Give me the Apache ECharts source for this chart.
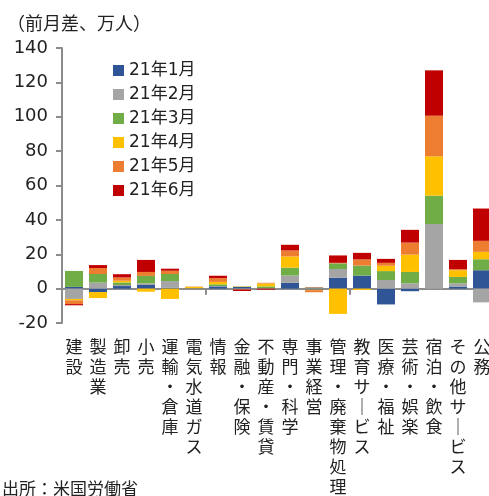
<!DOCTYPE html>
<html>
<head>
<meta charset="utf-8">
<script src="https://cdn.jsdelivr.net/npm/echarts@6/dist/echarts.min.js"></script>
<style>
html, body { margin: 0; padding: 0; background: #fff; }
#main { width: 489px; height: 496px; }
</style>
</head>
<body>
<div id="main"></div>
<script>
// 業種
var categories = ['建設', '製造業', '卸売', '小売', '運輸・倉庫', '電気水道ガス', '情報', '金融・保険', '不動産・賃貸',
    '専門・科学', '事業経営', '管理・廃棄物処理', '教育サービス', '医療・福祉', '芸術・娯楽', '宿泊・飲食', 'その他サービス', '公務'];
var seriesNames = ['21年1月', '21年2月', '21年3月', '21年4月', '21年5月', '21年6月'];
var colors = ['#2F5597', '#A5A5A5', '#70AD47', '#FFC000', '#ED7D31', '#C00000'];

// 前月差（万人）
var jan = [1.0, -2.0, 1.5, 2.1, 0.6, 0.2, 1.3, 1.0, 0, 3.4, -0.6, 6.4, 7.6, -9.2, -1.5, 0, 1.2, 10.7];
var feb = [-6.0, 3.5, 0.6, 1.0, 3.8, 0, 0.2, -0.3, 0.3, 4.2, 0.3, 5.0, 0, 5.0, 3.1, 37.6, 1.9, -8.0];
var mar = [9.3, 5.0, 1.5, 4.3, 4.1, 0, 1.0, 0.2, 1.0, 4.6, 0.3, 3.3, 5.8, 5.2, 6.6, 16.5, 3.7, 6.4];
var apr = [-0.8, -3.5, 1.0, -1.8, -6.0, 0.8, 1.4, 0.2, 1.7, 6.5, -0.3, -14.7, -0.8, 3.1, 10.1, 22.9, 3.9, 4.3];
var may = [-2.2, 3.5, 1.9, 2.3, 1.9, 0.2, 2.2, -0.3, 0.4, 3.5, -1.2, 0.3, 3.6, 1.7, 7.0, 23.6, 0.6, 6.4];
var jun = [-0.7, 1.7, 1.9, 7.0, 1.2, 0, 1.4, -0.8, -0.6, 3.3, 0.2, 4.3, 3.8, 2.3, 7.4, 26.4, 5.4, 18.8];

var values = [jan, feb, mar, apr, may, jun];

var myChart = echarts.init(document.getElementById('main'), null, { renderer: 'canvas' });

// 縦書きラベル（長音は縦棒に）
function verticalText(s) {
    return s.split('').map(function(c) {
        return c === 'ー' ? '｜' : c;
    }).join('\n');
}

var series = [];
for (var i = 0; i < seriesNames.length; i++) {
    series.push({
        name: seriesNames[i],
        type: 'bar',
        stack: 'total',
        xAxisIndex: 0,
        barCategoryGap: '25%',
        itemStyle: { color: colors[i] },
        data: values[i]
    });
}

var option = {
    animation: false,
    backgroundColor: '#fff',
    title: {
        text: '（前月差、万人）',
        left: 2,
        top: 9,
        textStyle: {
            fontFamily: 'Noto Sans CJK JP',
            fontSize: 18,
            fontWeight: 'normal',
            color: '#222'
        }
    },
    legend: {
        orient: 'vertical',
        left: 108,
        top: 57,
        itemWidth: 11,
        itemHeight: 11,
        itemGap: 7,
        icon: 'rect',
        data: seriesNames,
        textStyle: {
            fontFamily: 'DejaVu Sans, Noto Sans CJK JP',
            fontSize: 17,
            color: '#222'
        }
    },
    grid: {
        left: 62,
        right: -5,
        top: 48,
        bottom: 173,
        containLabel: false,
        outerBoundsMode: 'none'
    },
    xAxis: [{
        type: 'category',
        data: categories,
        axisLine: { onZero: true, lineStyle: { color: '#8C8C8C', width: 2 } },
        axisTick: { show: true, length: 6, lineStyle: { color: '#8C8C8C', width: 2 } },
        axisLabel: { show: false },
        splitLine: { show: false }
    }, {
        type: 'category',
        position: 'bottom',
        data: categories,
        axisLine: { show: false, onZero: false },
        axisTick: { show: false },
        axisLabel: {
            margin: 14,
            interval: 0,
            fontFamily: 'Noto Sans CJK JP',
            fontSize: 17,
            lineHeight: 20,
            color: '#222',
            formatter: function(v) {
                return verticalText(v);
            }
        }
    }],
    yAxis: {
        type: 'value',
        min: -20,
        max: 140,
        interval: 20,
        axisLine: { show: true, lineStyle: { color: '#8C8C8C', width: 2 } },
        axisTick: { show: true, length: 6, lineStyle: { color: '#8C8C8C', width: 2 } },
        axisLabel: {
            margin: 14,
            fontFamily: 'DejaVu Sans',
            fontSize: 18,
            color: '#222'
        },
        splitLine: { show: false }
    },
    graphic: [{
        type: 'text',
        left: 2,
        top: 480,
        style: {
            text: '出所：米国労働省',
            font: '17px "Noto Sans CJK JP"',
            fill: '#222'
        }
    }],
    series: series
};

myChart.setOption(option);
</script>
</body>
</html>
